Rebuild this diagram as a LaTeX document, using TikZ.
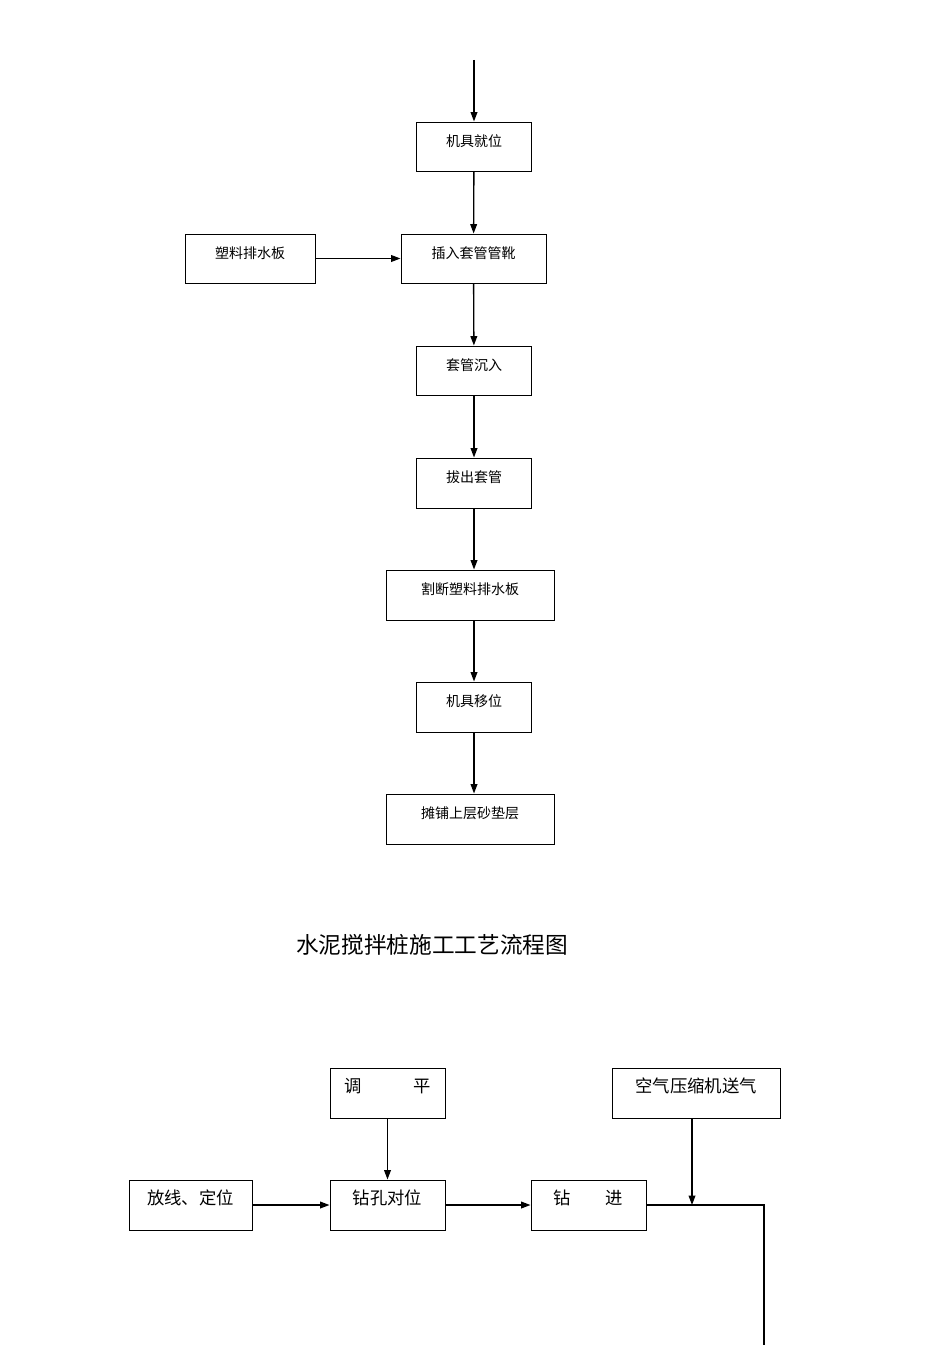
\documentclass[tikz,border=0pt]{standalone}
\usepackage{fontspec}
\newfontfamily\cjk{Noto Sans CJK SC}
\usetikzlibrary{arrows.meta}
\begin{document}
\begin{tikzpicture}[x=0.75pt,y=-0.75pt,
  bx/.style 2 args={draw,line width=0.75pt,inner sep=0pt,minimum width=#1*0.75pt,minimum height=#2*0.75pt,
     text height=#2*0.75pt*0.49, text depth=#2*0.75pt*0.51,font=\cjk\fontsize{10.5pt}{12pt}\selectfont},
  sb/.style={bx={#1}{50},font=\cjk\fontsize{13pt}{15pt}\selectfont},
  ar/.style={line width=1pt,-{Triangle[length=7pt,width=5pt]}},
  ln/.style={line width=1pt}]
\useasboundingbox (0,0) rectangle (950,1345);
\coordinate (start) at (474,60);
\node[bx={115}{49}] (a) at (474,146.5) {机具就位};
\node[bx={145}{49}] (b) at (473.5,258.5) {插入套管管靴};
\node[bx={130}{49}] (s) at (250,258.5) {塑料排水板};
\node[bx={115}{49}] (c) at (474,370.5) {套管沉入};
\node[bx={115}{50}] (d) at (474,483) {拔出套管};
\node[bx={168}{50}] (e) at (470,595) {割断塑料排水板};
\node[bx={115}{50}] (f) at (474,707) {机具移位};
\node[bx={168}{50}] (g) at (470,819) {摊铺上层砂垫层};
\draw[ar] (start) -- (a);
\draw[ar] (a) -- (b);
\draw[ar] (s) -- (b);
\draw[ar] (b) -- (c);
\draw[ar] (c) -- (d);
\draw[ar] (d) -- (e.north -| d);
\draw[ar] (e.south -| d) -- (f);
\draw[ar] (f) -- (g.north -| f);
\node[font=\cjk\fontsize{17pt}{20pt}\selectfont] (t) at (432,945) {水泥搅拌桩施工工艺流程图};
\node[sb={115}] (p) at (387.5,1093) {调\hspace{3em}平};
\node[sb={168}] (q) at (696,1093) {空气压缩机送气};
\node[sb={123}] (h) at (190.5,1205) {放线、定位};
\node[sb={115}] (k) at (387.5,1205) {钻孔对位};
\node[sb={115}] (m) at (588.5,1205) {钻\hspace{2em}进};
\coordinate (j) at (692,1205);
\coordinate (r) at (764,1205);
\coordinate (end) at (764,1345);
\draw[ar] (p) -- (k);
\draw[ar] (h) -- (k);
\draw[ar] (k) -- (m);
\draw[ar] (q.south -| j) -- (j);
\draw[ln] (m) -- (r) -- (end);
\end{tikzpicture}
\end{document}
